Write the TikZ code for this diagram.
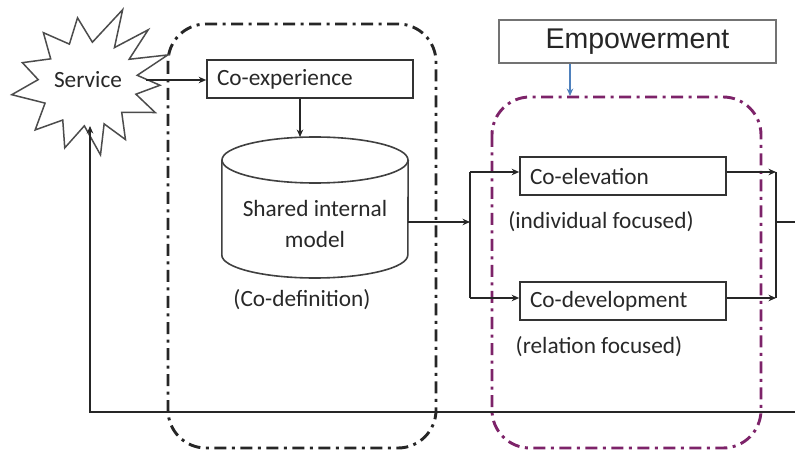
\documentclass[tikz,border=0pt]{standalone}
\usepackage{fontspec}
\setmainfont{Carlito}
\newfontfamily\arialfont{Liberation Sans}
\usetikzlibrary{arrows.meta,calc}
\definecolor{ink}{RGB}{40,40,40}
\definecolor{framepurple}{RGB}{125,35,105}
\definecolor{officeblue}{RGB}{79,129,189}
\begin{document}
\begin{tikzpicture}[x=1pt,y=-1pt,
  font=\fontsize{23.3}{26}\selectfont, text=ink,
  conn/.style={draw=black!85, line width=2.3pt, -{Stealth[length=7.5pt,width=6.5pt]}},
  line/.style={draw=black!85, line width=2.3pt},
  labelbox/.style={draw=black!80, line width=1.6pt, fill=white, minimum width=206pt,
    minimum height=38pt, text width=186pt, align=left, inner sep=0pt},
  phase/.style={line width=2.9pt, rounded corners=38pt,
    dash pattern=on 12pt off 5.5pt on 3pt off 5.5pt}]
\useasboundingbox (0,0) rectangle (795,454);

% dash-dot frames
\draw[phase, draw=black!85] (168,24) rectangle (436,448);
\draw[phase, draw=framepurple] (492,97) rectangle (761,448);

% starburst "Service"
\coordinate (svc) at (88,84);
\draw[draw=black!70, line width=1.5pt, fill=white]
  plot coordinates {
   ($(svc)+(-65:82)$) ($(svc)+(-54:45)$) ($(svc)+(-42:81)$) ($(svc)+(-31:48)$)
   ($(svc)+(-20:85)$) ($(svc)+(-10:50)$) ($(svc)+(1:72)$) ($(svc)+(12:49)$)
   ($(svc)+(23:73)$) ($(svc)+(40:44)$) ($(svc)+(56:67)$) ($(svc)+(68:43)$)
   ($(svc)+(80:72)$) ($(svc)+(95:42)$) ($(svc)+(110:68)$) ($(svc)+(125:44)$)
   ($(svc)+(139:70)$) ($(svc)+(156:47)$) ($(svc)+(172:77)$) ($(svc)+(185:50)$)
   ($(svc)+(198:69)$) ($(svc)+(214:45)$) ($(svc)+(229:68)$) ($(svc)+(245:44)$)
   ($(svc)+(261:67)$) ($(svc)+(276:42)$) } -- cycle;
\node (service) at (88,80) {Service};
\coordinate (svcR) at (146,80);
\coordinate (svcB) at (90,126);

% boxes
\node[labelbox] (coexp) at (310,79) {Co-experience};
\node[labelbox] (coelev) at (623,176) {Co-elevation};
\node[labelbox] (codev) at (623,301) {Co-development};
\node[draw=black!55, line width=1.6pt, fill=white, minimum width=277pt, minimum height=43pt,
  inner sep=0pt, font=\arialfont\fontsize{28.5}{31}\selectfont, text=black!85]
  (empower) at (637.5,41.5) {Empowerment};

% shared internal model (cylinder)
\node[minimum width=186pt, minimum height=141pt, inner sep=0pt] (cyl) at (315,207.5) {};
\draw[draw=black!75, line width=1.6pt, fill=white]
  (cyl.west |- 0,160) -- (cyl.west |- 0,255) arc[start angle=180, end angle=0, x radius=93, y radius=23]
  -- (cyl.east |- 0,160);
\draw[draw=black!75, line width=1.6pt] (315,160) ellipse[x radius=93, y radius=23];
\node[align=center, font=\fontsize{23.3}{31}\selectfont] (simtext) at (315,224) {Shared internal\\model};

% captions
\node (codef) at (302,300) {(Co-definition)};
\node (indiv) at (601,222) {(individual focused)};
\node (relat) at (599,347) {(relation focused)};

% junctions
\coordinate (splitT) at (470,172);
\coordinate (splitM) at (470,222);
\coordinate (splitB) at (470,298);
\coordinate (joinT) at (776,172);
\coordinate (joinM) at (776,222);
\coordinate (joinB) at (776,298);
\coordinate (outR) at (795,222);
\coordinate (fbR) at (795,412);
\coordinate (fbL) at (90,412);

% connectors
\draw[conn] (svcR) -- (coexp.west |- svcR);
\draw[conn] (coexp.south -| 300,0) -- (300,137);
\draw[conn] (cyl.east |- splitM) -- (splitM);
\draw[line] (splitT) -- (splitB);
\draw[conn] (splitT) -- (coelev.west |- splitT);
\draw[conn] (splitB) -- (codev.west |- splitB);
\draw[conn] (coelev.east |- joinT) -- (joinT);
\draw[conn] (codev.east |- joinB) -- (joinB);
\draw[line] (joinT) -- (joinB);
\draw[line] (joinM) -- (outR);
\draw[conn] (fbR) -- (fbL) -- (svcB);
\draw[draw=officeblue, line width=2pt, -{Stealth[length=7.5pt,width=6.5pt]}]
  (empower.south -| 570,0) -- (570,96);
\end{tikzpicture}
\end{document}
